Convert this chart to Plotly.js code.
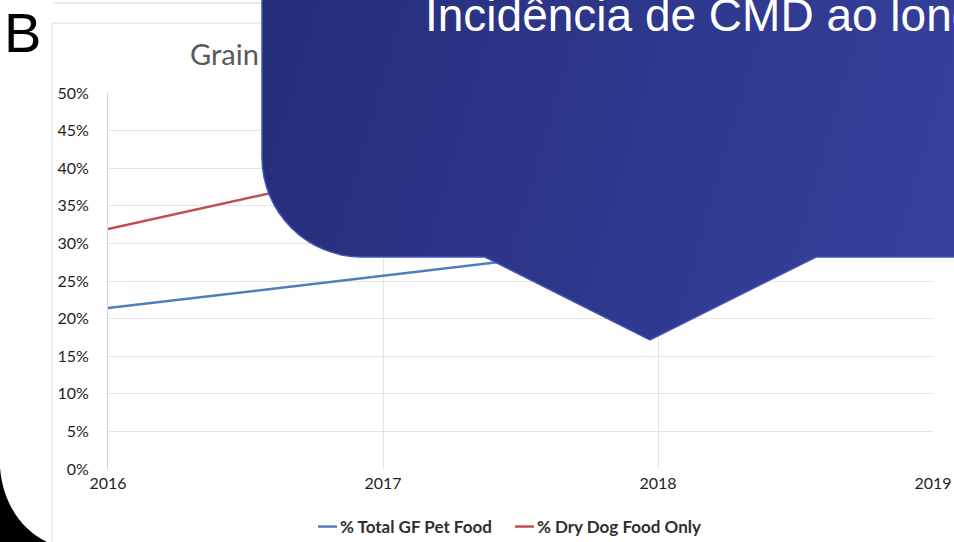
<!DOCTYPE html>
<html><head><meta charset="utf-8">
<script src="https://cdn.plot.ly/plotly-3.0.1.min.js"></script>
<style>html,body{margin:0;padding:0;overflow:hidden;background:#fff}</style>
</head><body><div id="chart" style="width:954px;height:542px"></div>
<script>
// ---- data ----
const years = [2016, 2017, 2018, 2019];
const totalGF = [0.214, 0.257, 0.300, 0.310];
const dryDog = [0.319, 0.400, 0.440, 0.450];
const seriesNames = ['% Total GF Pet Food', '% Dry Dog Food Only'];
const yTickVals = [0, 0.05, 0.10, 0.15, 0.20, 0.25, 0.30, 0.35, 0.40, 0.45, 0.50];
const yTickText = ['0%', '5%', '10%', '15%', '20%', '25%', '30%', '35%', '40%', '45%', '50%'];
const xTickText = ['2016', '2017', '2018', '2019'];
const titleText = 'Grain Free Share of Pet Food Sales';
const calloutText = 'Incidência de CMD ao longo do tempo';
const panelLabel = 'B';

// ---- geometry helpers (pixel -> paper) ----
const L = 108, R = 933, T = 93, B = 469;
const px = x => (x - L) / (R - L);
const py = y => (B - y) / (B - T);
const P = (x, y) => px(x).toFixed(5) + ',' + py(y).toFixed(5);

const k = 55.2;
const calloutPath = 'M' + P(262, -30) + ' L' + P(262, 157) +
  ' C' + P(262, 157 + k) + ' ' + P(362 - k, 257) + ' ' + P(362, 257) +
  ' L' + P(485, 257) + ' L' + P(650, 340) + ' L' + P(816, 257) +
  ' L' + P(990, 257) + ' L' + P(990, -30) + ' Z';
const cornerPath = 'M' + P(-5, 468) + ' L' + P(0, 468) +
  ' C' + P(3, 502) + ' ' + P(20, 529) + ' ' + P(47, 542) +
  ' L' + P(47, 560) + ' L' + P(-5, 560) + ' Z';

const font = 'Lato, "Open Sans", sans-serif';

const traces = [
  {x: years, y: totalGF, name: seriesNames[0], type: 'scatter', mode: 'lines',
   line: {color: '#4F7FBA', width: 2.5}, hoverinfo: 'skip'},
  {x: years, y: dryDog, name: seriesNames[1], type: 'scatter', mode: 'lines',
   line: {color: '#C0504D', width: 2.5}, hoverinfo: 'skip'}
];

const layout = {
  width: 954, height: 542,
  margin: {l: L, r: 954 - R, t: T, b: 542 - B, pad: 0},
  paper_bgcolor: '#ffffff', plot_bgcolor: '#ffffff',
  showlegend: true,
  title: {text: titleText, font: {family: font, size: 29, color: '#595959'},
          xref: 'paper', x: px(190), xanchor: 'left', yref: 'container', y: 1 - 55 / 542, yanchor: 'middle'},
  xaxis: {range: [2016, 2019], tickvals: years, ticktext: xTickText, showgrid: true, gridcolor: '#e4e4e4',
          zeroline: false, showline: false, ticks: '', ticklabelstandoff: 3, automargin: false,
          tickfont: {family: font, size: 16, color: '#1e1e1e'}, fixedrange: true},
  yaxis: {range: [0, 0.5], tickvals: yTickVals, ticktext: yTickText, showgrid: true, gridcolor: '#e4e4e4',
          zeroline: false, showline: true, linecolor: '#d4d4d4', linewidth: 1, ticks: '', ticklabelstandoff: 15,
          automargin: false, tickfont: {family: font, size: 16, color: '#1e1e1e'}, fixedrange: true},
  legend: {orientation: 'h', xref: 'container', yref: 'container', x: 503 / 954, xanchor: 'center',
           y: (542 - 527) / 542, yanchor: 'middle',
           font: {family: font, size: 17, color: '#2e2e2e', weight: 'bold'}, bgcolor: 'rgba(0,0,0,0)', itemwidth: 30},
  shapes: [
    {type: 'line', xref: 'paper', yref: 'paper', x0: px(53), x1: px(960), y0: py(3), y1: py(3), line: {color: '#e2e2e2', width: 1.5}, layer: 'below'},
    {type: 'line', xref: 'paper', yref: 'paper', x0: px(52), x1: px(960), y0: py(23), y1: py(23), line: {color: '#e6e6e6', width: 1.5}, layer: 'below'},
    {type: 'line', xref: 'paper', yref: 'paper', x0: px(52), x1: px(52), y0: py(23), y1: py(560), line: {color: '#e6e6e6', width: 1.5}, layer: 'below'},
    {type: 'path', xref: 'paper', yref: 'paper', path: cornerPath, fillcolor: '#000000', line: {width: 0}, layer: 'above'},
    {type: 'path', xref: 'paper', yref: 'paper', path: calloutPath, fillcolor: '#2c3586', line: {color: '#4252bd', width: 1.5}, layer: 'above'}
  ],
  annotations: [
    {text: calloutText, xref: 'paper', yref: 'paper', x: px(423), xanchor: 'left', y: py(15), yanchor: 'middle',
     showarrow: false, font: {family: 'Liberation Sans, Arial, sans-serif', size: 46, color: '#ffffff'}},
    {text: panelLabel, xref: 'paper', yref: 'paper', x: px(2), xanchor: 'left', y: py(32), yanchor: 'middle',
     showarrow: false, font: {family: 'Liberation Sans, Arial, sans-serif', size: 56, color: '#000000'}}
  ]
};

Plotly.newPlot('chart', traces, layout, {staticPlot: true, displayModeBar: false}).then(function () {
  const ns = 'http://www.w3.org/2000/svg';
  try {
    let cp = null;
    document.querySelectorAll('#chart .shapelayer path').forEach(function (p) {
      const f = (p.style.fill || p.getAttribute('fill') || '').replace(/\s/g, '');
      if (f === 'rgb(44,53,134)' || f === '#2c3586') cp = p;
    });
    if (cp) {
      const svg = cp.ownerSVGElement;
      let defs = svg.querySelector('defs');
      if (!defs) { defs = document.createElementNS(ns, 'defs'); svg.insertBefore(defs, svg.firstChild); }
      const g = document.createElementNS(ns, 'linearGradient');
      g.setAttribute('id', 'calloutGrad');
      g.setAttribute('gradientUnits', 'userSpaceOnUse');
      g.setAttribute('x1', '262'); g.setAttribute('y1', '0');
      g.setAttribute('x2', '954'); g.setAttribute('y2', '200');
      [['0', '#262e79'], ['1', '#35409c']].forEach(function (s) {
        const st = document.createElementNS(ns, 'stop');
        st.setAttribute('offset', s[0]); st.setAttribute('stop-color', s[1]);
        g.appendChild(st);
      });
      defs.appendChild(g);
      cp.style.fill = 'url(#calloutGrad)';
      const title = document.querySelector('#chart .g-gtitle');
      if (title) cp.parentNode.insertBefore(title, cp);
    }
  } catch (e) { console.log(e); }
  try {
    document.querySelectorAll('#chart .legendlines path').forEach(function (p) {
      p.setAttribute('d', 'M18,0h19');
    });
  } catch (e) { console.log(e); }
});
</script>
</body></html>
